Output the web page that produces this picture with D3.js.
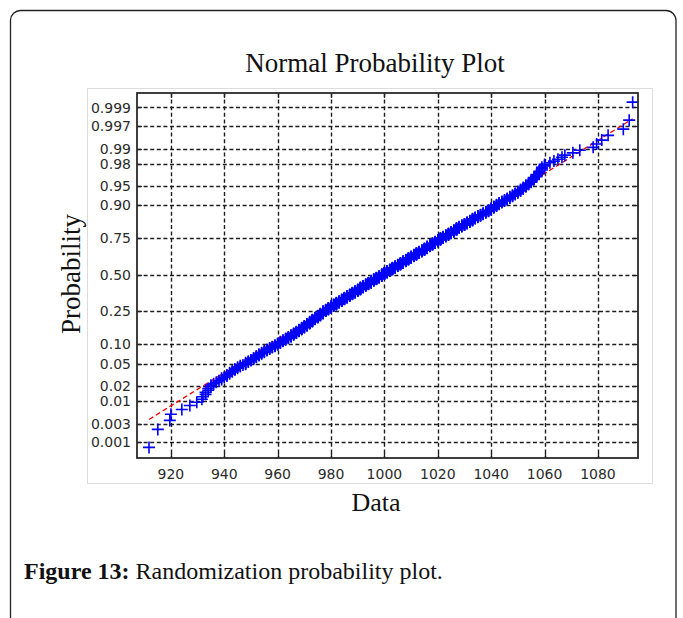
<!DOCTYPE html>
<html>
<head>
<meta charset="utf-8">
<script src="https://cdn.jsdelivr.net/npm/d3@7.9.0/dist/d3.min.js"></script>
<style>
  html, body { margin: 0; padding: 0; background: #fff; }
  svg { display: block; }
</style>
</head>
<body>
<svg id="chart" width="683" height="618"></svg>
<script>
// sorted sample (n = 700)
const lowTail = [911.8, 915.1, 919.6, 920.0, 924.1, 927.1, 929.7, 931.6, 932, 933, 933, 934, 934, 935];
const bodyValues = [
  935, 936, 937, 938, 939, 939, 940, 941, 941, 942, 942, 943, 943, 944, 944, 945, 945, 946, 946, 947, 948,
  948, 948, 949, 949, 950, 950, 951, 951, 951, 952, 952, 952, 953, 953, 953, 954, 954, 954, 955, 955, 955, 956, 956, 956, 957, 957, 957, 958, 958, 958, 959, 959, 959, 960, 960,
  960, 960, 961, 961, 961, 961, 962, 962, 962, 962, 963, 963, 963, 963, 964, 964, 964, 964, 965, 965, 965, 965, 965, 966, 966, 966, 966, 966, 967, 967, 967, 967, 967, 968, 968,
  968, 968, 968, 968, 969, 969, 969, 969, 969, 969, 970, 970, 970, 970, 970, 970, 971, 971, 971, 971, 971, 971, 971, 972, 972, 972, 972, 972, 972, 972, 973, 973, 973, 973, 973,
  973, 973, 973, 974, 974, 974, 974, 974, 974, 974, 975, 975, 975, 975, 975, 975, 975, 975, 976, 976, 976, 976, 976, 976, 976, 976, 977, 977, 977, 977, 977, 977, 977, 977, 977,
  977, 978, 978, 978, 978, 978, 978, 979, 979, 979, 979, 979, 979, 979, 980, 980, 980, 980, 980, 980, 980, 980, 981, 981, 981, 981, 981, 981, 981, 982, 982, 982, 982, 982, 982,
  982, 982, 983, 983, 983, 983, 983, 983, 983, 984, 984, 984, 984, 984, 984, 984, 984, 985, 985, 985, 985, 985, 985, 985, 985, 986, 986, 986, 986, 986, 986, 986, 986, 987, 987,
  987, 987, 987, 987, 987, 987, 988, 988, 988, 988, 988, 988, 988, 988, 989, 989, 989, 989, 989, 989, 989, 989, 990, 990, 990, 990, 990, 990, 990, 990, 991, 991, 991, 991, 991,
  991, 991, 991, 991, 991, 992, 992, 992, 992, 992, 992, 992, 992, 993, 993, 993, 993, 993, 993, 993, 993, 994, 994, 994, 994, 994, 994, 994, 994, 995, 995, 995, 995, 995, 995,
  995, 995, 995, 995, 996, 996, 996, 996, 996, 996, 996, 996, 997, 997, 997, 997, 997, 997, 997, 997, 998, 998, 998, 998, 998, 998, 998, 998, 999, 999, 999, 999, 999, 999, 999,
  999, 999, 999, 1000, 1000, 1000, 1000, 1000, 1000, 1000, 1000, 1001, 1001, 1001, 1001, 1001, 1001, 1001, 1001, 1002, 1002, 1002, 1002, 1002, 1002, 1002, 1002, 1003, 1003, 1003, 1003, 1003, 1003, 1003, 1003,
  1003, 1004, 1004, 1004, 1004, 1004, 1004, 1004, 1004, 1005, 1005, 1005, 1005, 1005, 1005, 1005, 1005, 1006, 1006, 1006, 1006, 1006, 1006, 1006, 1006, 1007, 1007, 1007, 1007, 1007, 1007, 1007, 1007, 1007, 1008,
  1008, 1008, 1008, 1008, 1008, 1008, 1008, 1009, 1009, 1009, 1009, 1009, 1009, 1009, 1009, 1010, 1010, 1010, 1010, 1010, 1010, 1010, 1010, 1011, 1011, 1011, 1011, 1011, 1011, 1011, 1011, 1012, 1012, 1012, 1012,
  1012, 1012, 1012, 1012, 1013, 1013, 1013, 1013, 1013, 1013, 1013, 1014, 1014, 1014, 1014, 1014, 1014, 1014, 1015, 1015, 1015, 1015, 1015, 1015, 1015, 1015, 1016, 1016, 1016, 1016, 1016, 1016, 1016, 1016, 1016,
  1017, 1017, 1017, 1017, 1017, 1017, 1017, 1018, 1018, 1018, 1018, 1018, 1018, 1018, 1019, 1019, 1019, 1019, 1019, 1019, 1019, 1020, 1020, 1020, 1020, 1020, 1020, 1020, 1021, 1021, 1021, 1021, 1021, 1021, 1021,
  1021, 1022, 1022, 1022, 1022, 1022, 1022, 1023, 1023, 1023, 1023, 1023, 1023, 1024, 1024, 1024, 1024, 1024, 1024, 1025, 1025, 1025, 1025, 1025, 1025, 1026, 1026, 1026, 1026, 1026, 1026, 1026, 1027, 1027, 1027,
  1027, 1027, 1027, 1027, 1028, 1028, 1028, 1028, 1028, 1029, 1029, 1029, 1029, 1029, 1030, 1030, 1030, 1030, 1030, 1031, 1031, 1031, 1031, 1031, 1032, 1032, 1032, 1032, 1032, 1033, 1033, 1033, 1033, 1033, 1033,
  1034, 1034, 1034, 1034, 1035, 1035, 1035, 1035, 1036, 1036, 1036, 1036, 1037, 1037, 1037, 1037, 1038, 1038, 1038, 1038, 1039, 1039, 1039, 1039, 1040, 1040, 1040, 1040, 1040, 1041, 1041, 1041, 1041, 1042, 1042,
  1042, 1042, 1043, 1043, 1043, 1043, 1044, 1044, 1044, 1045, 1045, 1045, 1046, 1046, 1046, 1047, 1047, 1047, 1048, 1048, 1048, 1049, 1049, 1049, 1050, 1050, 1050, 1051, 1051, 1051, 1052, 1052, 1052, 1053, 1053,
  1053, 1054, 1054, 1054, 1055, 1055, 1055, 1056, 1056, 1056, 1057, 1057, 1057, 1058, 1058, 1058, 1059, 1059, 1059, 1060, 1060,
  1062, 1063.5, 1065, 1066.5
];
const highTail = [1067.6, 1070.6, 1073.2, 1078.2, 1079.5, 1081.4, 1083.8, 1089.5, 1091.7, 1093.0];

const probTicks = [0.001, 0.003, 0.01, 0.02, 0.05, 0.10, 0.25, 0.50, 0.75, 0.90, 0.95, 0.98, 0.99, 0.997, 0.999];
const probLabels = ["0.001", "0.003", "0.01", "0.02", "0.05", "0.10", "0.25", "0.50", "0.75", "0.90", "0.95", "0.98", "0.99", "0.997", "0.999"];
const dataTicks = [920, 940, 960, 980, 1000, 1020, 1040, 1060, 1080];

const xDomain = [907.3, 1095];
const zDomain = [-3.385, 3.358];

// inverse standard normal cdf (Acklam)
function normInv(p) {
  const a = [-39.69683028665376, 220.9460984245205, -275.9285104469687, 138.3577518672690, -30.66479806614716, 2.506628277459239];
  const b = [-54.47609879822406, 161.5858368580409, -155.6989798598866, 66.80131188771972, -13.28068155288572];
  const c = [-0.007784894002430293, -0.3223964580411365, -2.400758277161838, -2.549732539343734, 4.374664141464968, 2.938163982698783];
  const d = [0.007784695709041462, 0.3224671290700398, 2.445134137142996, 3.754408661907416];
  const pl = 0.02425;
  if (p < pl) {
    const q = Math.sqrt(-2 * Math.log(p));
    return (((((c[0]*q+c[1])*q+c[2])*q+c[3])*q+c[4])*q+c[5]) / ((((d[0]*q+d[1])*q+d[2])*q+d[3])*q+1);
  }
  if (p > 1 - pl) {
    const q = Math.sqrt(-2 * Math.log(1 - p));
    return -(((((c[0]*q+c[1])*q+c[2])*q+c[3])*q+c[4])*q+c[5]) / ((((d[0]*q+d[1])*q+d[2])*q+d[3])*q+1);
  }
  const q = p - 0.5, r = q * q;
  return (((((a[0]*r+a[1])*r+a[2])*r+a[3])*r+a[4])*r+a[5])*q / (((((b[0]*r+b[1])*r+b[2])*r+b[3])*r+b[4])*r+1);
}

const values = lowTail.concat(bodyValues, highTail).sort((a, b) => a - b);
const n = values.length;
const points = values.map((v, i) => ({ v: v, z: normInv((i + 0.5) / n) }));

const plot = { left: 137, right: 638, top: 93, bottom: 458 };

const svg = d3.select('#chart');

const xScale = d3.scaleLinear().domain(xDomain).range([plot.left, plot.right]);
const yScale = d3.scaleLinear().domain(zDomain).range([plot.bottom, plot.top]);

// outer frame of the figure box
svg.append('path')
  .attr('d', 'M10.5,618 V20 A10,10 0 0 1 20.5,10.5 H666 A10,10 0 0 1 676,20.5 V618')
  .attr('fill', 'none')
  .attr('stroke', '#222')
  .attr('stroke-width', 1.3);

// light border of the embedded figure
svg.append('rect')
  .attr('x', 87.5).attr('y', 88.5)
  .attr('width', 565).attr('height', 395)
  .attr('fill', 'none')
  .attr('stroke', '#dcdcdc')
  .attr('stroke-width', 1);

// grid
const grid = svg.append('g')
  .attr('stroke', '#1e1e1e')
  .attr('stroke-width', 1.4)
  .attr('stroke-dasharray', '4,2.6');

grid.selectAll('.hgrid')
  .data(probTicks)
  .join('line')
  .attr('x1', plot.left).attr('x2', plot.right)
  .attr('y1', d => Math.round(yScale(normInv(d))) + 0.5)
  .attr('y2', d => Math.round(yScale(normInv(d))) + 0.5);

grid.selectAll('.vgrid')
  .data(dataTicks)
  .join('line')
  .attr('y1', plot.top).attr('y2', plot.bottom)
  .attr('x1', d => Math.round(xScale(d)) + 0.5)
  .attr('x2', d => Math.round(xScale(d)) + 0.5);

// inward tick marks on all four sides
const ticks = svg.append('g').attr('stroke', '#222').attr('stroke-width', 1.3);
dataTicks.forEach(d => {
  const x = Math.round(xScale(d)) + 0.5;
  ticks.append('line').attr('x1', x).attr('x2', x).attr('y1', plot.bottom).attr('y2', plot.bottom - 5);
  ticks.append('line').attr('x1', x).attr('x2', x).attr('y1', plot.top).attr('y2', plot.top + 5);
});
probTicks.forEach(d => {
  const y = Math.round(yScale(normInv(d))) + 0.5;
  ticks.append('line').attr('x1', plot.left).attr('x2', plot.left + 5).attr('y1', y).attr('y2', y);
  ticks.append('line').attr('x1', plot.right).attr('x2', plot.right - 5).attr('y1', y).attr('y2', y);
});

// reference line through the quartiles (as normplot does)
const q1 = d3.quantile(values, 0.25);
const q3 = d3.quantile(values, 0.75);
const zq1 = normInv(0.25), zq3 = normInv(0.75);
const slope = (zq3 - zq1) / (q3 - q1);
const lineZ = v => zq1 + slope * (v - q1);
const vMin = d3.min(values), vMax = d3.max(values);

const refLine = d3.line().x(d => xScale(d)).y(d => yScale(lineZ(d)));
svg.append('path')
  .datum([vMin, q1])
  .attr('d', refLine)
  .attr('fill', 'none').attr('stroke', '#ff0000').attr('stroke-width', 1.3)
  .attr('stroke-dasharray', '5,3');
svg.append('path')
  .datum([q1, q3])
  .attr('d', refLine)
  .attr('fill', 'none').attr('stroke', '#ff0000').attr('stroke-width', 1.3);
svg.append('path')
  .datum([q3, vMax])
  .attr('d', refLine)
  .attr('fill', 'none').attr('stroke', '#ff0000').attr('stroke-width', 1.3)
  .attr('stroke-dasharray', '5,3');

// data markers
svg.append('g')
  .selectAll('path')
  .data(points)
  .join('path')
  .attr('transform', d => `translate(${xScale(d.v)},${yScale(d.z)})`)
  .attr('d', 'M-6,0H6M0,-6V6')
  .attr('fill', 'none')
  .attr('stroke', '#0000ff')
  .attr('stroke-width', 1.6);

// axes box
svg.append('rect')
  .attr('x', plot.left).attr('y', plot.top)
  .attr('width', plot.right - plot.left).attr('height', plot.bottom - plot.top)
  .attr('fill', 'none')
  .attr('stroke', '#2a2a2a')
  .attr('stroke-width', 1.8);

// tick labels
const tickFont = { family: 'DejaVu Sans', size: '14px', color: '#2b2b2b' };
svg.append('g')
  .selectAll('text')
  .data(probTicks)
  .join('text')
  .attr('x', plot.left - 6)
  .attr('y', d => yScale(normInv(d)))
  .attr('dy', '0.36em')
  .attr('text-anchor', 'end')
  .attr('font-family', tickFont.family)
  .attr('font-size', tickFont.size)
  .attr('fill', tickFont.color)
  .text((d, i) => probLabels[i]);

svg.append('g')
  .selectAll('text')
  .data(dataTicks)
  .join('text')
  .attr('x', d => xScale(d))
  .attr('y', 479)
  .attr('text-anchor', 'middle')
  .attr('font-family', tickFont.family)
  .attr('font-size', tickFont.size)
  .attr('fill', tickFont.color)
  .text(d => d);

// titles
svg.append('text')
  .attr('x', 375).attr('y', 72)
  .attr('text-anchor', 'middle')
  .attr('font-family', 'Liberation Serif')
  .attr('font-size', '27px')
  .attr('fill', '#111')
  .text('Normal Probability Plot');

svg.append('text')
  .attr('x', 376).attr('y', 511)
  .attr('text-anchor', 'middle')
  .attr('font-family', 'Liberation Serif')
  .attr('font-size', '26px')
  .attr('fill', '#111')
  .text('Data');

svg.append('text')
  .attr('transform', 'translate(80,274) rotate(-90)')
  .attr('text-anchor', 'middle')
  .attr('font-family', 'Liberation Serif')
  .attr('font-size', '27px')
  .attr('fill', '#111')
  .text('Probability');

// caption
const caption = svg.append('text')
  .attr('x', 24).attr('y', 579)
  .attr('font-family', 'Liberation Serif')
  .attr('font-size', '24px')
  .attr('fill', '#111');
caption.append('tspan').attr('font-weight', 'bold').text('Figure 13:');
caption.append('tspan').text(' Randomization probability plot.');
</script>
</body>
</html>
